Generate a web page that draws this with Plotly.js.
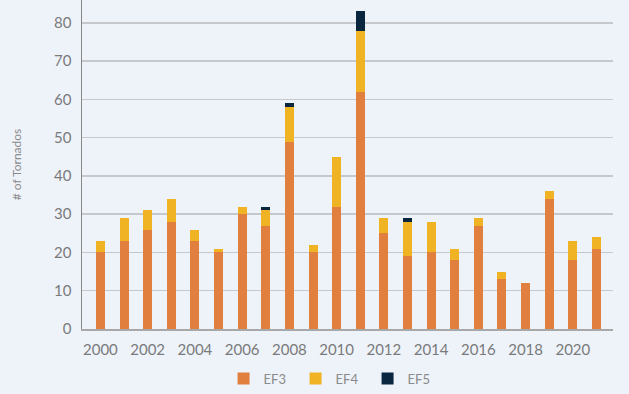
<!DOCTYPE html>
<html><head><meta charset="utf-8">
<script src="https://cdn.plot.ly/plotly-3.0.1.min.js"></script>
<style>html,body{margin:0;padding:0;background:#EEF3FA;}#chart{width:629px;height:394px;}</style>
</head><body><div id="chart"></div>
<script>
const years = [2000,2001,2002,2003,2004,2005,2006,2007,2008,2009,2010,2011,2012,2013,2014,2015,2016,2017,2018,2019,2020,2021];
const ef3 = [20,23,26,28,23,20,30,27,49,20,32,62,25,19,20,18,27,13,12,34,18,21];
const ef4 = [3,6,5,6,3,1,2,4,9,2,13,16,4,9,8,3,2,2,0,2,5,3];
const ef5 = [0,0,0,0,0,0,0,1,1,0,0,5,0,1,0,0,0,0,0,0,0,0];
const seriesNames = ['EF3','EF4','EF5'];
const colors = ['#E07F3E','#F0B323','#0B2740'];
const series = [ef3, ef4, ef5];
const traces = series.map((v,i)=>({type:'bar', x:years, y:v, name:seriesNames[i], marker:{color:colors[i], line:{width:0}}, width:0.38, hoverinfo:'skip'}));
const font = "Lato, 'Open Sans', sans-serif";
const layout = {
  width:629, height:394, barmode:'stack',
  paper_bgcolor:'#EEF3FA', plot_bgcolor:'#EEF3FA',
  margin:{l:82, r:16, t:0, b:62},
  font:{family:font, color:'#7A7A7A'},
  showlegend:true,
  legend:{orientation:'h', x:0.47, xanchor:'center', y:-0.105, yanchor:'top', font:{size:13, color:'#8A8A8A'}, itemwidth:30, entrywidth:27, entrywidthmode:'pixels', traceorder:'normal'},
  xaxis:{range:[1999.22,2021.7], tickvals:[2000,2002,2004,2006,2008,2010,2012,2014,2016,2018,2020], ticktext:['2000','2002','2004','2006','2008','2010','2012','2014','2016','2018','2020'], showgrid:false, zeroline:false, showline:true, linecolor:'#A8A8A8', linewidth:2, ticks:'', ticklabelstandoff:6, tickfont:{size:15, color:'#7A7A7A'}, automargin:false, fixedrange:true},
  yaxis:{range:[0,86], tickvals:[0,10,20,30,40,50,60,70,80], showgrid:true, gridcolor:'#C6C8CC', gridwidth:1.5, zeroline:false, showline:true, linecolor:'#888888', linewidth:1.5, ticks:'', ticklabelstandoff:6, tickfont:{size:15, color:'#7A7A7A'}, title:{text:'# of Tornados', font:{size:12, color:'#8A8A8A'}, standoff:30}, automargin:false, fixedrange:true}
};
Plotly.newPlot('chart', traces, layout, {staticPlot:true, displayModeBar:false});
</script></body></html>
